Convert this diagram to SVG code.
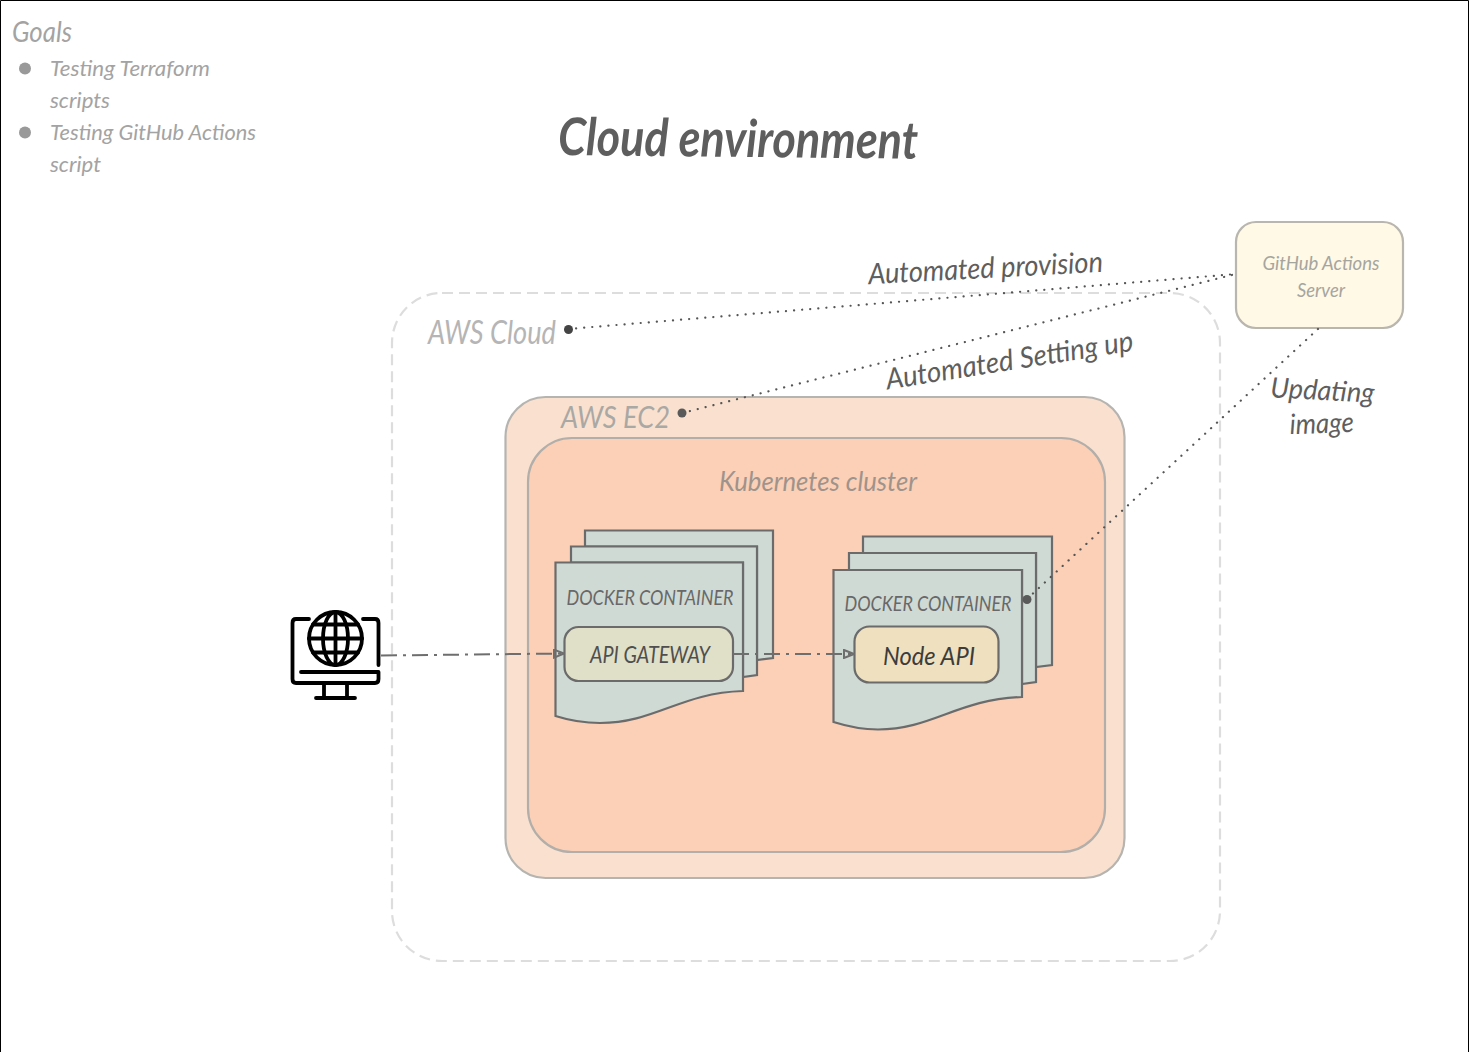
<svg xmlns="http://www.w3.org/2000/svg" width="1469" height="1052" viewBox="0 0 1469 1052">
<style>
text{font-family:"Lato","Liberation Sans",sans-serif;font-style:italic;font-weight:400;text-anchor:middle}
.t{text-anchor:start}
.g{fill:#a3a3a3}
.d{fill:#5e5e5e}
.doc{fill:#d0dad5;stroke:#6b6b6b;stroke-width:2.2}
.in{stroke:#6b6b6b;stroke-width:2.2}
.dot{fill:none;stroke:#555;stroke-width:2.2;stroke-linecap:round;stroke-dasharray:.1 8}
.flow{fill:none;stroke:#6e6e6e;stroke-width:2;stroke-dasharray:16 6 3 6;marker-end:url(#tri)}
.ic{fill:none;stroke:#000;stroke-width:3.800;stroke-linecap:round;stroke-linejoin:round}
</style>
<defs>
<marker id="tri" viewBox="0 0 12 10" refX="11" refY="5" markerWidth="12" markerHeight="10" markerUnits="userSpaceOnUse" orient="auto"><path d="M1 1L11 5L1 9Z" fill="none" stroke="#6e6e6e" stroke-width="2"/></marker>
</defs>
<rect width="1469" height="1052" fill="#fff"/>
<path d="M.5 1052V.5H1468.500V1052" fill="none" stroke="#000"/>
<g id="goals">
<text class="t g" x="12" y="42" font-size="28" textLength="60" lengthAdjust="spacingAndGlyphs">Goals</text>
<circle cx="25" cy="68.500" r="6" fill="#999"/>
<text class="t g" x="50" y="76" font-size="21" textLength="160" lengthAdjust="spacingAndGlyphs">Testing Terraform</text>
<text class="t g" x="50" y="108" font-size="21" textLength="60" lengthAdjust="spacingAndGlyphs">scripts</text>
<circle cx="25" cy="132.500" r="6" fill="#999"/>
<text class="t g" x="50" y="140" font-size="21" textLength="206" lengthAdjust="spacingAndGlyphs">Testing GitHub Actions</text>
<text class="t g" x="50" y="172" font-size="21" textLength="51" lengthAdjust="spacingAndGlyphs">script</text>
</g>
<g id="title"><text class="t d" x="558" y="155" font-size="52" style="font-weight:700" textLength="360" lengthAdjust="spacingAndGlyphs" transform="rotate(0.6 558 155)">Cloud environment</text></g>
<g id="aws-cloud">
<rect x="392" y="293" width="828" height="668" rx="50" fill="#fff" stroke="#ddd" stroke-width="2.200" stroke-dasharray="11 6"/>
<text class="t" x="428" y="344" font-size="32" fill="#b5b5b5" textLength="128" lengthAdjust="spacingAndGlyphs">AWS Cloud</text>
</g>
<g id="aws-ec2">
<rect x="505.500" y="397" width="619" height="481" rx="40" fill="#fae1cf" stroke="#b6b4b0" stroke-width="2.200"/>
<text class="t" x="561" y="428" font-size="31" fill="#aaa8a5" textLength="109" lengthAdjust="spacingAndGlyphs">AWS EC2</text>
</g>
<g id="kubernetes-cluster">
<rect x="528" y="438" width="577" height="414" rx="44" fill="#fbd0b6" stroke="#b2aeaa" stroke-width="2.200"/>
<text x="818" y="491" font-size="27" fill="#9f938c" textLength="198" lengthAdjust="spacingAndGlyphs">Kubernetes cluster</text>
</g>
<g id="docker-left">
<path class="doc" d="M585 530.500H773V658L757 660V546.500H585Z"/>
<path class="doc" d="M571 546.500H757V675L743 677V562.500H571Z"/>
<path class="doc" d="M555.500 562.500H743V691C680 693 655 723 600 723C580 723 565 719 555.500 716Z"/>
<text x="650" y="605" font-size="21" fill="#686868" textLength="167" lengthAdjust="spacingAndGlyphs">DOCKER CONTAINER</text>
<rect class="in" x="564.500" y="627" width="168.500" height="54" rx="14" fill="#e0e0c8"/>
<text x="650" y="663" font-size="23" fill="#4f4f4f" textLength="120" lengthAdjust="spacingAndGlyphs">API GATEWAY</text>
</g>
<g id="docker-right">
<path class="doc" d="M863 536.500H1052V665L1036 667V553H863Z"/>
<path class="doc" d="M849 553H1036V682L1022 684V570H849Z"/>
<path class="doc" d="M833.500 570H1022V697C958 699 932 729.500 878 729.500C858 729.500 843 725 833.500 722Z"/>
<text x="928" y="611" font-size="21" fill="#686868" textLength="167" lengthAdjust="spacingAndGlyphs">DOCKER CONTAINER</text>
<rect class="in" x="854.500" y="626.500" width="144" height="56" rx="15" fill="#efe1bf"/>
<text x="929" y="665" font-size="26" fill="#3c3c3c" textLength="92" lengthAdjust="spacingAndGlyphs">Node API</text>
</g>
<g id="github-actions-server">
<rect x="1236" y="222" width="167" height="106" rx="20" fill="#fff9e6" stroke="#b8b6ae" stroke-width="2.200"/>
<text x="1321" y="270" font-size="19" fill="#a5a5a0" textLength="117" lengthAdjust="spacingAndGlyphs">GitHub Actions</text>
<text x="1321" y="297" font-size="19" fill="#a5a5a0" textLength="48" lengthAdjust="spacingAndGlyphs">Server</text>
</g>
<g id="user-icon" class="ic">
<path d="M309 619H296Q292.500 619 292.500 623V679Q292.500 683 296 683H375Q378.500 683 378.500 679V672H301"/>
<path d="M363 619H375Q378.500 619 378.500 623V665"/>
<circle cx="335.500" cy="638.500" r="26.500"/>
<ellipse cx="335.500" cy="638.500" rx="12.500" ry="26.500"/>
<path d="M335.500 612V665M309 638.500H362M313 624.500H358M313 652.500H358"/>
<path d="M324 684V698M347 684V698M316 698H355"/>
</g>
<g id="connectors">
<path class="dot" d="M568 329L1236 274"/>
<path class="dot" d="M682 413L1236 274"/>
<path class="dot" d="M1027 599L1319 328"/>
<circle cx="568.500" cy="329.500" r="4.500" fill="#444"/>
<circle cx="682" cy="413" r="4.500" fill="#5a5a5a"/>
<circle cx="1027" cy="599.500" r="4.500" fill="#5a5a5a"/>
<path class="flow" d="M381 655.500L564 653.500"/>
<path class="flow" d="M733 654L854 654"/>
<text x="986" y="278" font-size="29" fill="#5e5e5e" textLength="235" lengthAdjust="spacingAndGlyphs" transform="rotate(-3 986 278)">Automated provision</text>
<text x="1011" y="370" font-size="29" fill="#5e5e5e" textLength="250" lengthAdjust="spacingAndGlyphs" transform="rotate(-9 1011 370)">Automated Setting up</text>
<text x="1322" y="400" font-size="28" fill="#5e5e5e" textLength="104" lengthAdjust="spacingAndGlyphs" transform="rotate(3 1322 400)">Updating</text>
<text x="1322" y="433" font-size="28" fill="#5e5e5e" textLength="64" lengthAdjust="spacingAndGlyphs" transform="rotate(-2 1322 433)">image</text>
</g>
</svg>
